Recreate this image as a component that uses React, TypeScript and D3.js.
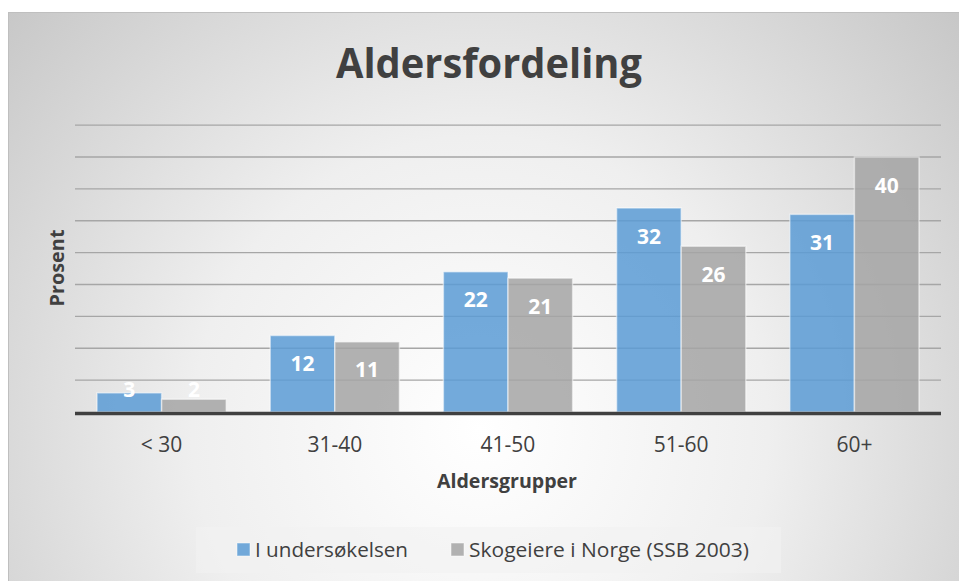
import React from "react";
import { scaleBand, scaleLinear } from "d3";

// data
const categories = ["< 30", "31-40", "41-50", "51-60", "60+"];
const undersokelsen = [3, 12, 22, 32, 31];
const skogeiere = [2, 11, 21, 26, 40];
const seriesNames = ["I undersøkelsen", "Skogeiere i Norge (SSB 2003)"];
const seriesColors = ["#5B9BD5", "#A5A5A5"];
const gridTicks = [0, 5, 10, 15, 20, 25, 30, 35, 40, 45];

const W = 959;
const H = 581;
const FONT = "'Open Sans', 'Noto Sans', sans-serif";
const TEXT = "#404040";

export default function App() {
  const margin = { left: 75, right: 18, top: 125, bottom: 169 };
  const x0 = margin.left;
  const x1 = W - margin.right;
  const yBase = 412;

  const x = scaleBand<string>()
    .domain(categories)
    .range([x0, x1])
    .paddingInner(0.254)
    .paddingOuter(0.127);

  const inner = scaleBand<number>()
    .domain([0, 1])
    .range([0, x.bandwidth()]);

  const y = scaleLinear().domain([0, 45]).range([yBase, yBase - 45 * 6.375]);

  const series = [undersokelsen, skogeiere];

  return (
    <svg
      width={W}
      height={H}
      style={{ position: "absolute", left: 0, top: 0 }}
    >
      <defs>
        <radialGradient
          id="bg"
          gradientUnits="userSpaceOnUse"
          cx={480}
          cy={430}
          r={640}
          gradientTransform="translate(480 430) scale(1 1.02) translate(-480 -430)"
        >
          <stop offset="0" stopColor="#FFFFFF" />
          <stop offset="0.45" stopColor="#EFEFEF" />
          <stop offset="1" stopColor="#C6C6C6" />
        </radialGradient>
      </defs>

      <rect x={0} y={0} width={W} height={H} fill="#FFFFFF" />
      <rect
        x={8.5}
        y={12.5}
        width={W + 10}
        height={H + 10}
        fill="url(#bg)"
        stroke="#BFBFBF"
        strokeWidth={1}
      />

      {/* title */}
      <text
        x={489}
        y={78}
        textAnchor="middle"
        fontFamily={FONT}
        fontWeight={700}
        fontSize={41}
        fill={TEXT}
        textLength={306}
        lengthAdjust="spacingAndGlyphs"
      >
        Aldersfordeling
      </text>

      {/* gridlines */}
      {gridTicks.slice(1).map((t) => (
        <line
          key={t}
          x1={x0}
          x2={x1}
          y1={y(t)}
          y2={y(t)}
          stroke="#A6A6A6"
          strokeWidth={1.3}
        />
      ))}

      {/* bars */}
      {categories.map((c, i) => (
        <g key={c}>
          {series.map((s, k) => {
            const v = s[i];
            const bx = (x(c) as number) + (inner(k) as number);
            const bw = inner.bandwidth();
            const top = y(v);
            return (
              <rect
                key={k}
                x={bx}
                y={top}
                width={bw}
                height={yBase - top}
                fill={seriesColors[k]}
                fillOpacity={0.85}
                stroke="#FFFFFF"
                strokeOpacity={0.5}
                strokeWidth={1.5}
              />
            );
          })}
        </g>
      ))}

      {/* axis line */}
      <line
        x1={x0}
        x2={x1}
        y1={yBase + 1.5}
        y2={yBase + 1.5}
        stroke={TEXT}
        strokeWidth={3.5}
      />

      {/* data labels */}
      {categories.map((c, i) =>
        series.map((s, k) => {
          const v = s[i];
          const cx = (x(c) as number) + (inner(k) as number) + inner.bandwidth() / 2;
          const cy = Math.min(y(v) + 28, yBase - 23);
          return (
            <text
              key={c + k}
              x={cx}
              y={cy}
              dy="0.36em"
              textAnchor="middle"
              fontFamily={FONT}
              fontWeight={700}
              fontSize={21}
              fill="#FFFFFF"
            >
              {v}
            </text>
          );
        })
      )}

      {/* category labels */}
      {categories.map((c) => (
        <text
          key={c}
          x={(x(c) as number) + x.bandwidth() / 2}
          y={452}
          textAnchor="middle"
          fontFamily={FONT}
          fontSize={21}
          fill={TEXT}
        >
          {c}
        </text>
      ))}

      {/* axis titles */}
      <text
        x={507}
        y={488}
        textAnchor="middle"
        fontFamily={FONT}
        fontWeight={700}
        fontSize={20}
        fill={TEXT}
        textLength={140}
        lengthAdjust="spacingAndGlyphs"
      >
        Aldersgrupper
      </text>
      <text
        transform="translate(64 268) rotate(-90)"
        textAnchor="middle"
        fontFamily={FONT}
        fontWeight={700}
        fontSize={20}
        fill={TEXT}
        textLength={77}
        lengthAdjust="spacingAndGlyphs"
      >
        Prosent
      </text>

      {/* legend */}
      <rect x={196} y={527} width={585} height={46} fill="#F2F2F2" fillOpacity={0.6} />
      {seriesNames.map((name, k) => {
        const lx = [237, 451][k];
        const tw = [153, 280][k];
        return (
          <g key={name}>
            <rect
              x={lx}
              y={543}
              width={13}
              height={13}
              fill={seriesColors[k]}
              fillOpacity={0.85}
              stroke="#FFFFFF"
              strokeOpacity={0.5}
            />
            <text
              x={lx + 18}
              y={557}
              fontFamily={FONT}
              fontSize={20}
              fill={TEXT}
              textLength={tw}
              lengthAdjust="spacingAndGlyphs"
            >
              {name}
            </text>
          </g>
        );
      })}
    </svg>
  );
}
